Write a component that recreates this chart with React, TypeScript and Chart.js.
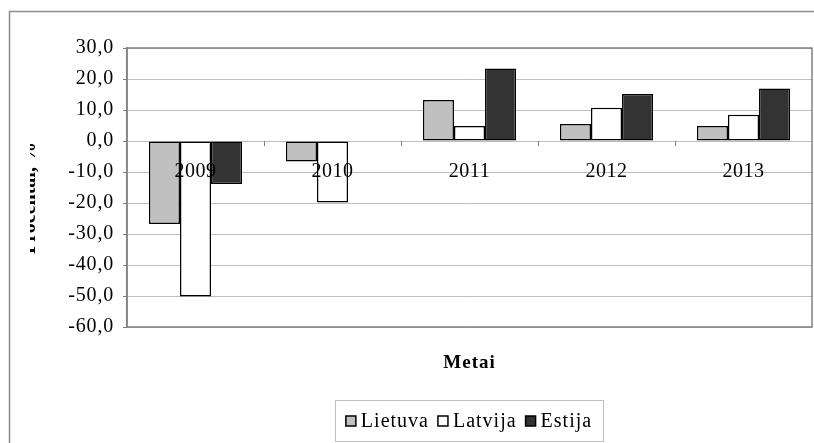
import { useEffect, useRef } from "react";
import { Chart, registerables } from "chart.js";

Chart.register(...registerables);

// Annual change by country, per year
const years = ["2009", "2010", "2011", "2012", "2013"];
const lietuva = [-26.8, -6.6, 13.2, 5.5, 4.8];
const latvija = [-50.2, -19.8, 4.8, 10.7, 8.5];
const estija = [-13.9, null, 23.4, 15.2, 16.9];

const seriesNames = ["Lietuva", "Latvija", "Estija"];
const seriesColors = ["#c0c0c0", "#ffffff", "#333333"];

const yMin = -60;
const yMax = 30;
const yStep = 10;

const xTitle = "Metai";
const yTitle = "Procentai, %";

const SERIF = '"Liberation Serif", "Times New Roman", serif';

const fmt = (v: number) => v.toFixed(1).replace(".", ",");

const decorations = {
  id: "decorations",
  beforeDraw(chart: any) {
    const { ctx, width, height } = chart;
    ctx.save();
    ctx.fillStyle = "#ffffff";
    ctx.fillRect(0, 0, width, height);
    // outer frame of the figure
    ctx.strokeStyle = "#8c8c8c";
    ctx.lineWidth = 1.5;
    ctx.beginPath();
    ctx.moveTo(9.5, height + 5);
    ctx.lineTo(9.5, 11.5);
    ctx.lineTo(width + 5, 11.5);
    ctx.stroke();
    ctx.restore();
    // slightly wider tracking for the axis tick labels
    (ctx as any).letterSpacing = "0.8px";
  },
  afterDatasetsDraw(chart: any) {
    const { ctx, chartArea } = chart;
    const xs = chart.scales.x;
    const ys = chart.scales.y;
    const zeroY = ys.getPixelForValue(0);
    ctx.save();

    // tick marks on the category axis (at the zero line)
    ctx.strokeStyle = "#808080";
    ctx.lineWidth = 1;
    ctx.beginPath();
    for (let i = 0; i < years.length - 1; i++) {
      const bx = Math.round((xs.getPixelForValue(i) + xs.getPixelForValue(i + 1)) / 2) + 0.5;
      ctx.moveTo(bx, zeroY);
      ctx.lineTo(bx, zeroY + 5);
    }
    ctx.stroke();

    // plot area border
    ctx.strokeStyle = "#808080";
    ctx.lineWidth = 1.5;
    ctx.strokeRect(chartArea.left, chartArea.top, chartArea.right - chartArea.left, chartArea.bottom - chartArea.top);

    // category labels next to the zero line
    ctx.fillStyle = "#000000";
    ctx.font = `20px ${SERIF}`;
    (ctx as any).letterSpacing = "0.5px";
    ctx.textAlign = "center";
    ctx.textBaseline = "alphabetic";
    years.forEach((y, i) => {
      ctx.fillText(y, xs.getPixelForValue(i), zeroY + 36);
    });
    ctx.restore();
  },
  afterDraw(chart: any) {
    const { ctx, chartArea } = chart;
    ctx.save();

    // x axis title
    ctx.fillStyle = "#000000";
    ctx.font = `bold 19px ${SERIF}`;
    (ctx as any).letterSpacing = "1px";
    ctx.textAlign = "center";
    ctx.textBaseline = "alphabetic";
    ctx.fillText(xTitle, (chartArea.left + chartArea.right) / 2, 368);

    // y axis title (rotated, partly hidden behind the left margin)
    ctx.save();
    ctx.beginPath();
    ctx.rect(30, 0, 100, chart.height);
    ctx.clip();
    ctx.translate(35, 198);
    ctx.rotate(-Math.PI / 2);
    (ctx as any).letterSpacing = "0px";
    ctx.font = `bold 20px ${SERIF}`;
    ctx.fillText(yTitle, 0, 0);
    ctx.restore();

    // legend box
    const boxL = 335, boxT = 400, boxR = 603, boxB = 441;
    ctx.strokeStyle = "#c0c0c0";
    ctx.lineWidth = 1;
    ctx.strokeRect(boxL + 0.5, boxT + 0.5, boxR - boxL, boxB - boxT);

    ctx.font = `20px ${SERIF}`;
    (ctx as any).letterSpacing = "1px";
    ctx.textAlign = "left";
    const sq = 10, gapText = 5, gapItem = 9;
    const widths = seriesNames.map((n) => ctx.measureText(n).width);
    const total = widths.reduce((a, w) => a + sq + gapText + w, 0) + gapItem * (seriesNames.length - 1);
    let x = (boxL + boxR) / 2 - total / 2;
    const cy = 421;
    seriesNames.forEach((name, i) => {
      ctx.fillStyle = seriesColors[i];
      ctx.fillRect(x, cy - sq / 2, sq, sq);
      ctx.strokeStyle = "#000000";
      ctx.lineWidth = 1.5;
      ctx.strokeRect(x, cy - sq / 2, sq, sq);
      ctx.fillStyle = "#000000";
      ctx.fillText(name, x + sq + gapText, 427);
      x += sq + gapText + widths[i] + gapItem;
    });
    ctx.restore();
  },
};

export default function App() {
  const ref = useRef<HTMLCanvasElement | null>(null);

  useEffect(() => {
    if (!ref.current) return;
    const data = [lietuva, latvija, estija];
    const chart = new Chart(ref.current, {
      type: "bar",
      data: {
        labels: years,
        datasets: seriesNames.map((name, i) => ({
          label: name,
          data: data[i],
          backgroundColor: seriesColors[i],
          borderColor: "#000000",
          borderWidth: 1.5,
          borderSkipped: false,
          categoryPercentage: 0.68,
          barPercentage: 1,
        })),
      },
      options: {
        responsive: false,
        animation: false,
        devicePixelRatio: 1,
        layout: { padding: { left: 0, right: 2, top: 48, bottom: 116 } },
        plugins: {
          legend: { display: false },
          tooltip: { enabled: false },
        },
        scales: {
          x: {
            display: false,
          },
          y: {
            min: yMin,
            max: yMax,
            afterFit(scale: any) {
              scale.width = 127;
            },
            ticks: {
              stepSize: yStep,
              color: "#000000",
              padding: 9,
              font: { family: SERIF, size: 20 },
              callback: (v: any) => fmt(Number(v)),
            },
            grid: {
              color: "#bdbdbd",
              lineWidth: 1,
              tickLength: 4,
              tickColor: "#808080",
            },
            border: { display: true, color: "#808080", width: 1.5 },
          },
        },
      },
      plugins: [decorations],
    });
    return () => chart.destroy();
  }, []);

  return (
    <div style={{ position: "absolute", left: 0, top: 0, width: 814, height: 443 }}>
      <canvas ref={ref} width={814} height={443} style={{ display: "block" }} />
    </div>
  );
}
